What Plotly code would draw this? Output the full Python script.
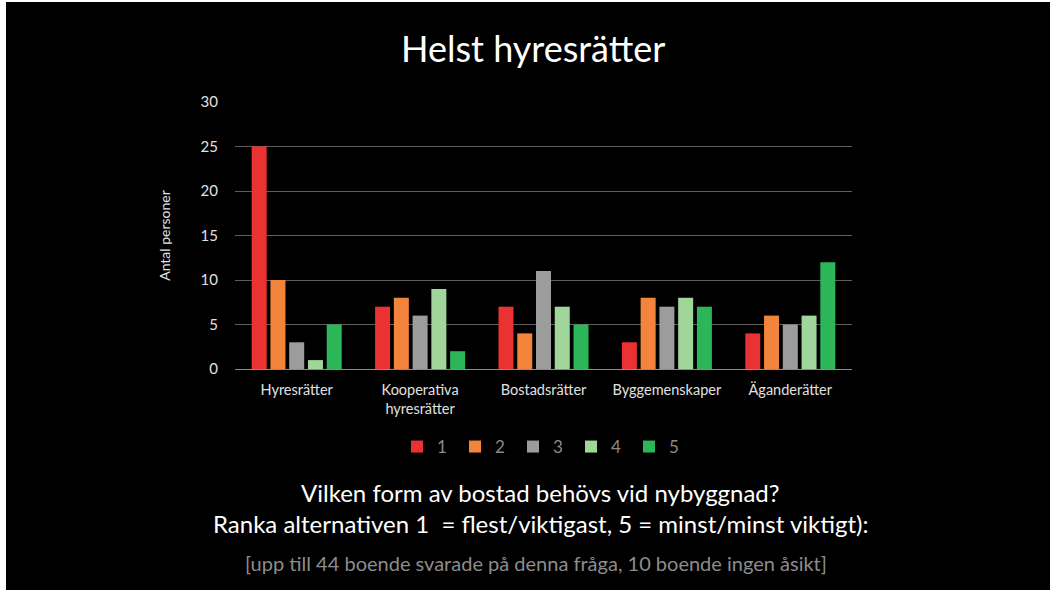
import plotly.graph_objects as go

categories = ["Hyresrätter", "Kooperativa<br>hyresrätter", "Bostadsrätter", "Byggemenskaper", "Äganderätter"]
rank_names = ["1", "2", "3", "4", "5"]
rank1 = [25, 7, 7, 3, 4]
rank2 = [10, 8, 4, 8, 6]
rank3 = [3, 6, 11, 7, 5]
rank4 = [1, 9, 7, 8, 6]
rank5 = [5, 2, 5, 7, 12]
series = [rank1, rank2, rank3, rank4, rank5]
colors = ["#EA3232", "#F2843C", "#9C9C9C", "#A0D69A", "#2DB55A"]
y_ticks = [0, 5, 10, 15, 20, 25, 30]

W, H = 1050, 590
L, R, T, B = 235, 198, 102, 221
pw, ph = W - L - R, H - T - B

fig = go.Figure()
for name, vals, c in zip(rank_names, series, colors):
    fig.add_trace(go.Bar(x=categories, y=vals, name=name, marker_color=c, marker_line_width=0))

font = "Lato, 'Open Sans', sans-serif"

def px_to_paper_x(px):
    return (px - L) / pw

def px_to_paper_y(py):
    return (H - B - py) / ph

fig.update_layout(
    width=W, height=H,
    margin=dict(l=L, r=R, t=T, b=B, pad=0),
    paper_bgcolor="#000000", plot_bgcolor="#000000",
    barmode="group", bargap=0.24, bargroupgap=0.2,
    font=dict(family=font, color="#E8E8E8"),
    showlegend=True,
    legend=dict(orientation="h", x=px_to_paper_x(542), xanchor="center",
                y=px_to_paper_y(447), yanchor="middle",
                font=dict(size=17, color="#8A8A8A", family=font),
                itemwidth=30, entrywidth=13, entrywidthmode="pixels",
                bgcolor="rgba(0,0,0,0)", traceorder="normal"),
    xaxis=dict(showgrid=False, showline=True, linecolor="#8C8C8C", linewidth=1,
               tickfont=dict(size=14.5, color="#E0E0E0", family=font), ticks="",
               ticklabelstandoff=8, fixedrange=True),
    yaxis=dict(range=[0, 30], tickvals=y_ticks, showgrid=True, gridcolor="#5E5E5E",
               gridwidth=1, zeroline=False, showline=False,
               tickfont=dict(size=15, color="#E0E0E0", family=font), ticks="",
               ticklabelstandoff=16, fixedrange=True,
               title=dict(text="Antal personer", font=dict(size=14, color="#E0E0E0", family=font),
                          standoff=26)),
    shapes=[
        dict(type="rect", xref="paper", yref="paper",
             x0=px_to_paper_x(0), x1=px_to_paper_x(6), y0=px_to_paper_y(H), y1=px_to_paper_y(0),
             fillcolor="#FFFFFF", line_width=0, layer="above"),
        dict(type="rect", xref="paper", yref="paper",
             x0=px_to_paper_x(0), x1=px_to_paper_x(W), y0=px_to_paper_y(2), y1=px_to_paper_y(0),
             fillcolor="#FFFFFF", line_width=0, layer="above"),
    ],
    annotations=[
        dict(text="Helst hyresrätter", xref="paper", yref="paper",
             x=px_to_paper_x(533), y=px_to_paper_y(48), xanchor="center", yanchor="middle",
             showarrow=False, font=dict(size=36, color="#FFFFFF", family=font)),
        dict(text="Vilken form av bostad behövs vid nybyggnad?", xref="paper", yref="paper",
             x=px_to_paper_x(540), y=px_to_paper_y(492), xanchor="center", yanchor="middle",
             showarrow=False, font=dict(size=24, color="#FFFFFF", family=font)),
        dict(text="Ranka alternativen 1  = flest/viktigast, 5 = minst/minst viktigt):", xref="paper", yref="paper",
             x=px_to_paper_x(541), y=px_to_paper_y(523), xanchor="center", yanchor="middle",
             showarrow=False, font=dict(size=24, color="#FFFFFF", family=font)),
        dict(text="[upp till 44 boende svarade på denna fråga, 10 boende ingen åsikt]", xref="paper", yref="paper",
             x=px_to_paper_x(536), y=px_to_paper_y(563), xanchor="center", yanchor="middle",
             showarrow=False, font=dict(size=20, color="#8C8C8C", family=font)),
    ],
)

fig.write_html("out.html", config={"displayModeBar": False},
               post_script="document.body.style.margin='0';document.body.style.overflow='hidden';")
